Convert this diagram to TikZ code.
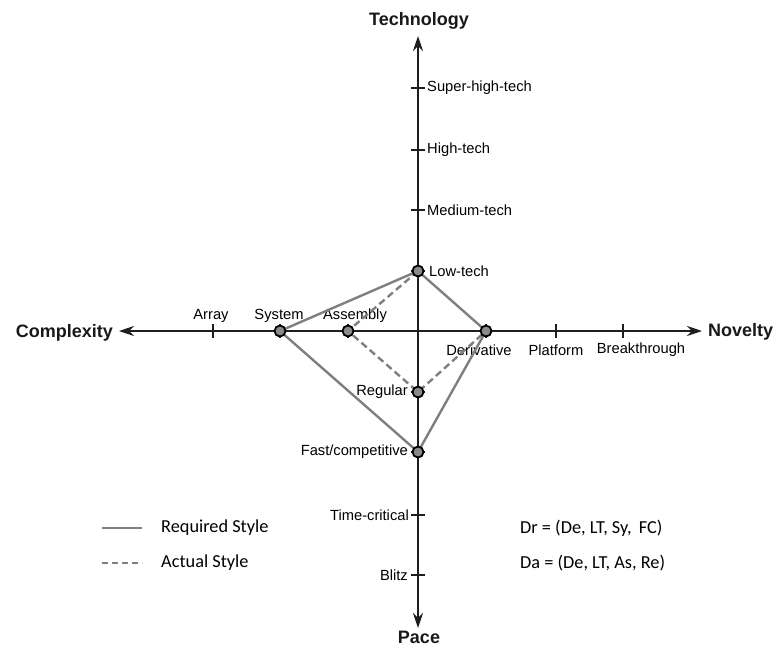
\documentclass[tikz,border=0pt]{standalone}
\usepackage{fontspec}
\setmainfont{Liberation Sans}
\newfontfamily\legfont{Carlito}
\usetikzlibrary{arrows.meta}
\definecolor{axisc}{HTML}{1E1E1E}
\definecolor{polyc}{HTML}{7F7F7F}
\definecolor{dotc}{HTML}{8A8A8A}
\tikzset{
  axisline/.style={draw=axisc, line width=2pt, -{Stealth[length=15pt,width=10pt]}},
  tickline/.style={draw=axisc, line width=1.2pt},
  ticklab/.style={font=\fontsize{14.7}{16}\selectfont, text=black, inner sep=0pt},
  axislab/.style={font=\fontsize{18}{20}\selectfont\bfseries, text=black!90, inner sep=0pt},
  reqline/.style={draw=polyc, line width=2.4pt},
  actline/.style={draw=polyc, line width=2.4pt, dash pattern=on 7pt off 4pt},
  dotmark/.style={circle, draw=black, fill=dotc, line width=1.8pt, minimum size=11pt, inner sep=0pt},
  legtext/.style={font=\legfont\fontsize{18.3}{20}\selectfont, text=black, inner sep=0pt, anchor=west}
}
\begin{document}
\begin{tikzpicture}[x=1pt,y=-1pt]
\useasboundingbox (0,0) rectangle (779,646);
% axis end points
\coordinate (O) at (418,331);
\coordinate (T) at (418,36);
\coordinate (P) at (418,628);
\coordinate (C) at (119,331);
\coordinate (N) at (702,331);
% axes
\draw[axisline] (O) -- (T);
\draw[axisline] (O) -- (P);
\draw[axisline] (O) -- (C);
\draw[axisline] (O) -- (N);
% tick points
\coordinate (ar) at (213,331);
\coordinate (sy) at (280,331);
\coordinate (as) at (348,331);
\coordinate (de) at (486,331);
\coordinate (pl) at (556,331);
\coordinate (br) at (623,331);
\coordinate (sh) at (418,88);
\coordinate (ht) at (418,150);
\coordinate (mt) at (418,210);
\coordinate (lt) at (418,271);
\coordinate (re) at (418,392);
\coordinate (fc) at (418,452);
\coordinate (tc) at (418,515);
\coordinate (bl) at (418,575);
% ticks
\foreach \p in {ar,sy,as,de,pl,br}{\draw[tickline] ([yshift=-7pt]\p) -- ([yshift=7pt]\p);}
\foreach \p in {sh,ht,mt,lt,re,fc,tc,bl}{\draw[tickline] ([xshift=-7pt]\p) -- ([xshift=7pt]\p);}
% axis labels
\node[axislab] (techl) at (419,21) {Technology};
\node[axislab] (pacel) at (419,637) {Pace};
\node[axislab, anchor=east] (compl) at (113,333) {Complexity};
\node[axislab, anchor=west] (novl) at (708,332) {Novelty};
% tick labels
\node[ticklab] (arl) at (211,316) {Array};
\node[ticklab] (syl) at (279,316) {System};
\node[ticklab] (asl) at (355,316) {Assembly};
\node[ticklab] (del) at (479,350) {Derivative};
\node[ticklab] (pll) at (556,350) {Platform};
\node[ticklab] (brl) at (641,350) {Breakthrough};
\node[ticklab, anchor=west] (shl) at (427,88) {Super-high-tech};
\node[ticklab, anchor=west] (htl) at (427,150) {High-tech};
\node[ticklab, anchor=west] (mtl) at (427,210) {Medium-tech};
\node[ticklab, anchor=west] (ltl) at (429,271) {Low-tech};
\node[ticklab, anchor=east] (rel) at (408,392) {Regular};
\node[ticklab, anchor=east] (fcl) at (408,452) {Fast/competitive};
\node[ticklab, anchor=east] (tcl) at (409,515) {Time-critical};
\node[ticklab, anchor=east] (bll) at (408,575) {Blitz};
% polygons
\draw[actline] (lt) -- (as) -- (re) -- (de);
\draw[reqline] (lt) -- (sy) -- (fc) -- (de) -- (lt);
% dots
\foreach \p in {sy,as,de,lt,re,fc}{\node[dotmark] at (\p) {};}
% legend
\coordinate (l1a) at (102,528);
\coordinate (l1b) at (142,528);
\coordinate (l2a) at (102,563);
\coordinate (l2b) at (142,563);
\draw[draw=polyc, line width=2pt] (l1a) -- (l1b);
\draw[draw=polyc, line width=2pt, dash pattern=on 6pt off 4pt] (l2a) -- (l2b);
\node[legtext] (rs) at (161,528) {Required Style};
\node[legtext] (acs) at (161,563) {Actual Style};
\node[legtext] (dr) at (520,528) {Dr = (De, LT, Sy,\, FC)};
\node[legtext] (da) at (520,563) {Da = (De, LT, As, Re)};
\end{tikzpicture}
\end{document}
